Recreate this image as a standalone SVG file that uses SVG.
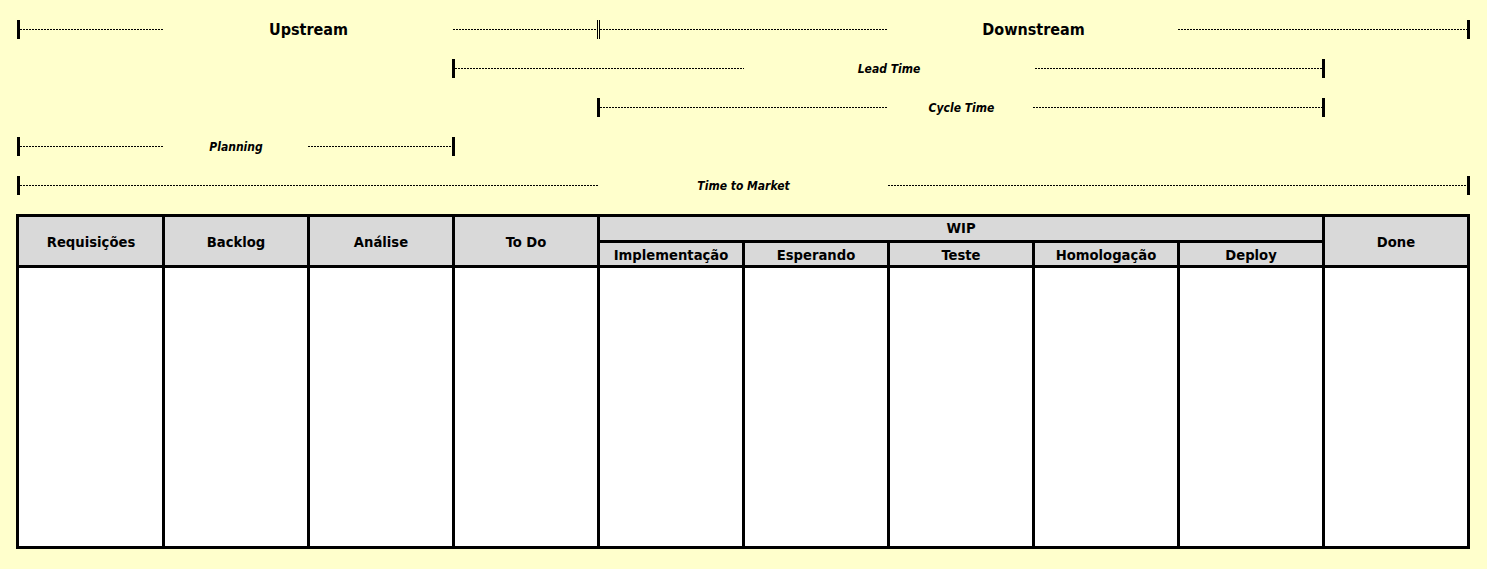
<svg xmlns="http://www.w3.org/2000/svg" width="1487" height="569" viewBox="0 0 1487 569">
<style>
.dot{stroke:#000;stroke-width:1;stroke-dasharray:2,1;fill:none}
.tick{fill:#000}
.thin{stroke:#000;stroke-width:1;fill:none}
.grid{stroke:#000;stroke-width:3;fill:none}
.h{font-family:"DejaVu Sans Condensed","DejaVu Sans",sans-serif;font-stretch:condensed;font-weight:bold;font-size:14.67px;fill:#000;text-anchor:middle}
.big{font-family:"DejaVu Sans Condensed","DejaVu Sans",sans-serif;font-stretch:condensed;font-weight:bold;font-size:16px;fill:#000;text-anchor:middle}
.it{font-family:"DejaVu Sans Condensed","DejaVu Sans",sans-serif;font-stretch:condensed;font-weight:bold;font-style:italic;font-size:12px;fill:#000;text-anchor:middle}
</style>
<rect x="0" y="0" width="1487" height="569" fill="#FFFFCC"/>
<g id="connectors" shape-rendering="crispEdges">
  <!-- Upstream / Downstream -->
  <rect class="tick" x="17" y="20" width="3" height="19"/>
  <line class="dot" x1="20" y1="29.5" x2="163" y2="29.5"/>
  <line class="dot" x1="453" y1="29.5" x2="597" y2="29.5"/>
  <line class="thin" x1="597.5" y1="20" x2="597.5" y2="39"/>
  <line class="thin" x1="599.5" y1="20" x2="599.5" y2="39"/>
  <line class="dot" x1="600" y1="29.5" x2="887" y2="29.5"/>
  <line class="dot" x1="1178" y1="29.5" x2="1467" y2="29.5"/>
  <rect class="tick" x="1467" y="20" width="3" height="19"/>
  <!-- Lead Time -->
  <rect class="tick" x="452" y="59" width="3" height="19"/>
  <line class="dot" x1="455" y1="68.5" x2="744" y2="68.5"/>
  <line class="dot" x1="1035" y1="68.5" x2="1322" y2="68.5"/>
  <rect class="tick" x="1322" y="59" width="3" height="19"/>
  <!-- Cycle Time -->
  <rect class="tick" x="597" y="98" width="3" height="19"/>
  <line class="dot" x1="600" y1="107.5" x2="887" y2="107.5"/>
  <line class="dot" x1="1033" y1="107.5" x2="1322" y2="107.5"/>
  <rect class="tick" x="1322" y="98" width="3" height="19"/>
  <!-- Planning -->
  <rect class="tick" x="17" y="137" width="3" height="19"/>
  <line class="dot" x1="20" y1="146.5" x2="163" y2="146.5"/>
  <line class="dot" x1="308" y1="146.5" x2="452" y2="146.5"/>
  <rect class="tick" x="452" y="137" width="3" height="19"/>
  <!-- Time to Market -->
  <rect class="tick" x="17" y="176" width="3" height="19"/>
  <line class="dot" x1="20" y1="185.5" x2="598" y2="185.5"/>
  <line class="dot" x1="888" y1="185.5" x2="1467" y2="185.5"/>
  <rect class="tick" x="1467" y="176" width="3" height="19"/>
</g>
<g id="labels">
  <text class="big" x="308.5" y="35">Upstream</text>
  <text class="big" x="1033.5" y="35">Downstream</text>
  <text class="it" x="889" y="73">Lead Time</text>
  <text class="it" x="961.5" y="112">Cycle Time</text>
  <text class="it" x="236" y="151">Planning</text>
  <text class="it" x="743.5" y="190">Time to Market</text>
</g>
<g id="board">
  <rect x="17.5" y="215.5" width="1451" height="51" fill="#D9D9D9"/>
  <rect x="17.5" y="266.5" width="1451" height="281" fill="#FFFFFF"/>
  <g shape-rendering="crispEdges">
    <rect class="grid" x="17.5" y="215.5" width="1451" height="332"/>
    <line class="grid" x1="17.5" y1="266.5" x2="1468.5" y2="266.5"/>
    <line class="grid" x1="598.5" y1="241.5" x2="1323.5" y2="241.5"/>
    <line class="grid" x1="163.5" y1="215.5" x2="163.5" y2="547.5"/>
    <line class="grid" x1="308.5" y1="215.5" x2="308.5" y2="547.5"/>
    <line class="grid" x1="453.5" y1="215.5" x2="453.5" y2="547.5"/>
    <line class="grid" x1="598.5" y1="215.5" x2="598.5" y2="547.5"/>
    <line class="grid" x1="743.5" y1="241.5" x2="743.5" y2="547.5"/>
    <line class="grid" x1="888.5" y1="241.5" x2="888.5" y2="547.5"/>
    <line class="grid" x1="1033.5" y1="241.5" x2="1033.5" y2="547.5"/>
    <line class="grid" x1="1178.5" y1="241.5" x2="1178.5" y2="547.5"/>
    <line class="grid" x1="1323.5" y1="215.5" x2="1323.5" y2="547.5"/>
  </g>
</g>
<g id="col-requisicoes"><text class="h" x="91" y="247">Requisições</text></g>
<g id="col-backlog"><text class="h" x="236" y="247">Backlog</text></g>
<g id="col-analise"><text class="h" x="381" y="247">Análise</text></g>
<g id="col-todo"><text class="h" x="526" y="247">To Do</text></g>
<g id="col-wip"><text class="h" x="961" y="233">WIP</text></g>
<g id="col-implementacao"><text class="h" x="671" y="260">Implementação</text></g>
<g id="col-esperando"><text class="h" x="816" y="260">Esperando</text></g>
<g id="col-teste"><text class="h" x="961" y="260">Teste</text></g>
<g id="col-homologacao"><text class="h" x="1106" y="260">Homologação</text></g>
<g id="col-deploy"><text class="h" x="1251" y="260">Deploy</text></g>
<g id="col-done"><text class="h" x="1396" y="247">Done</text></g>
</svg>
